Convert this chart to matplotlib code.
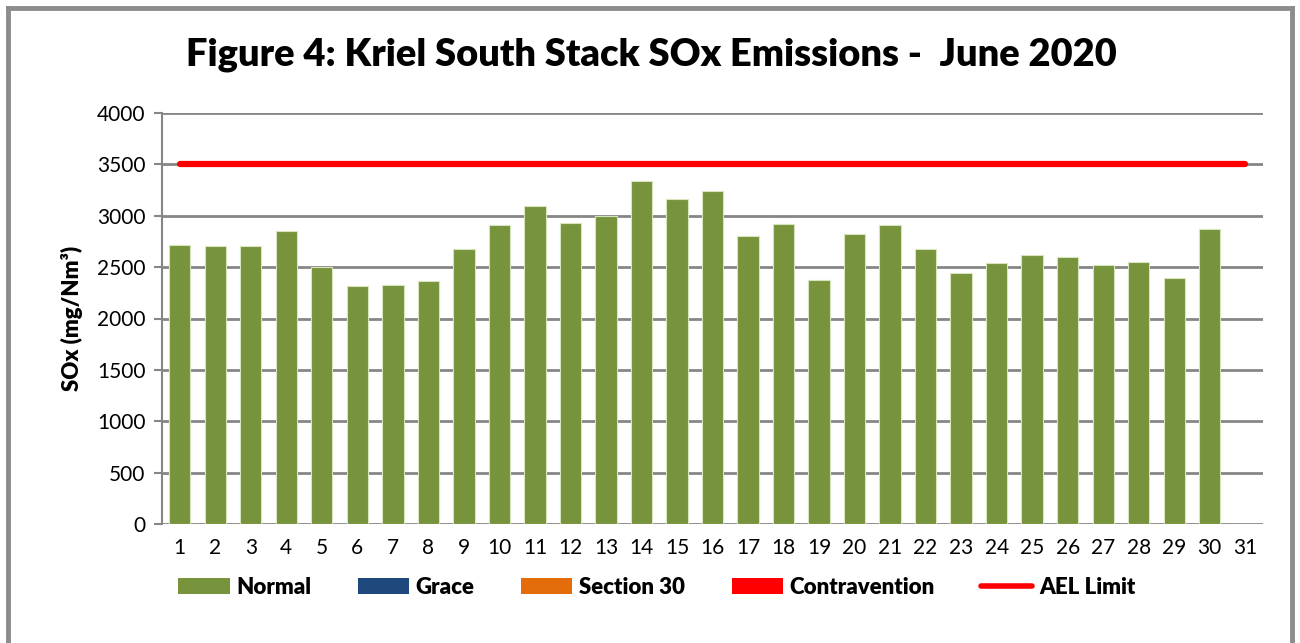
import matplotlib
matplotlib.use("Agg")
import matplotlib.pyplot as plt
from matplotlib.patches import Patch
from matplotlib.lines import Line2D

days = list(range(1, 32))
normal = [2720, 2710, 2707, 2856, 2506, 2321, 2328, 2363, 2678, 2914,
          3093, 2931, 2995, 3342, 3164, 3238, 2804, 2921, 2376, 2824,
          2914, 2674, 2438, 2545, 2616, 2596, 2516, 2554, 2396, 2875, 0]
ael_limit = [3500] * 31
yticks = [0, 500, 1000, 1500, 2000, 2500, 3000, 3500, 4000]

title = "Figure 4: Kriel South Stack SOx Emissions -  June 2020"
ylabel = "SOx (mg/Nm³)"
legend_labels = ["Normal", "Grace", "Section 30", "Contravention", "AEL Limit"]
colors = {"Normal": "#77933C", "Grace": "#1F497D", "Section 30": "#E46C0A",
          "Contravention": "#FF0000"}

plt.rcParams['font.family'] = ['Lato', 'DejaVu Sans']

fig = plt.figure(figsize=(13, 6.43), dpi=100)
ax = fig.add_axes([162/1300, 1-524/643, (1263-162)/1300, (524-113)/643])

ax.bar(days, normal, width=0.6, color=colors["Normal"], edgecolor="#d8e4bc", linewidth=0.8, zorder=3)
ax.plot(days, ael_limit, color="#FF0000", linewidth=4.5, solid_capstyle="round", zorder=4)

ax.set_xlim(0.5, 31.5)
ax.set_ylim(0, 4000)
ax.set_yticks(yticks)
ax.set_xticks(days)
ax.tick_params(axis='y', length=6, width=1.5, color="#868686", labelsize=15, pad=6)
ax.tick_params(axis='x', length=0, labelsize=15, pad=10)
ax.yaxis.grid(True, color="#868686", linewidth=2, zorder=0)
ax.set_axisbelow(True)
for s in ["top", "right", "bottom"]:
    ax.spines[s].set_visible(False)
ax.spines["left"].set_color("#868686")
ax.spines["left"].set_linewidth(1.5)

ax.set_ylabel(ylabel, fontsize=16, fontweight="heavy", labelpad=10)

fig.text(651/1300, 1-55/643, title, ha="center", va="center", fontsize=27.4, fontweight="heavy")

handles = [Patch(facecolor=colors[k]) for k in legend_labels[:4]]
handles.append(Line2D([0], [0], color="#FF0000", linewidth=4, solid_capstyle="round"))
leg = fig.legend(handles, legend_labels, loc="center", bbox_to_anchor=(657/1300, 1-587/643),
                 ncol=5, frameon=False, handlelength=2.3, handleheight=0.7,
                 columnspacing=2.1, handletextpad=0.3,
                 prop={"weight": "heavy", "size": 16})

fc = "#8c8c8c"
for xs, ys in [([8/1300, 8/1300], [0, 1-8/643]),
               ([8/1300, 1292/1300], [1-8/643, 1-8/643]),
               ([1292/1300, 1292/1300], [1-8/643, 0])]:
    fig.add_artist(Line2D(xs, ys, transform=fig.transFigure, color=fc, linewidth=3.5))

fig.savefig("out.png", dpi=100)
